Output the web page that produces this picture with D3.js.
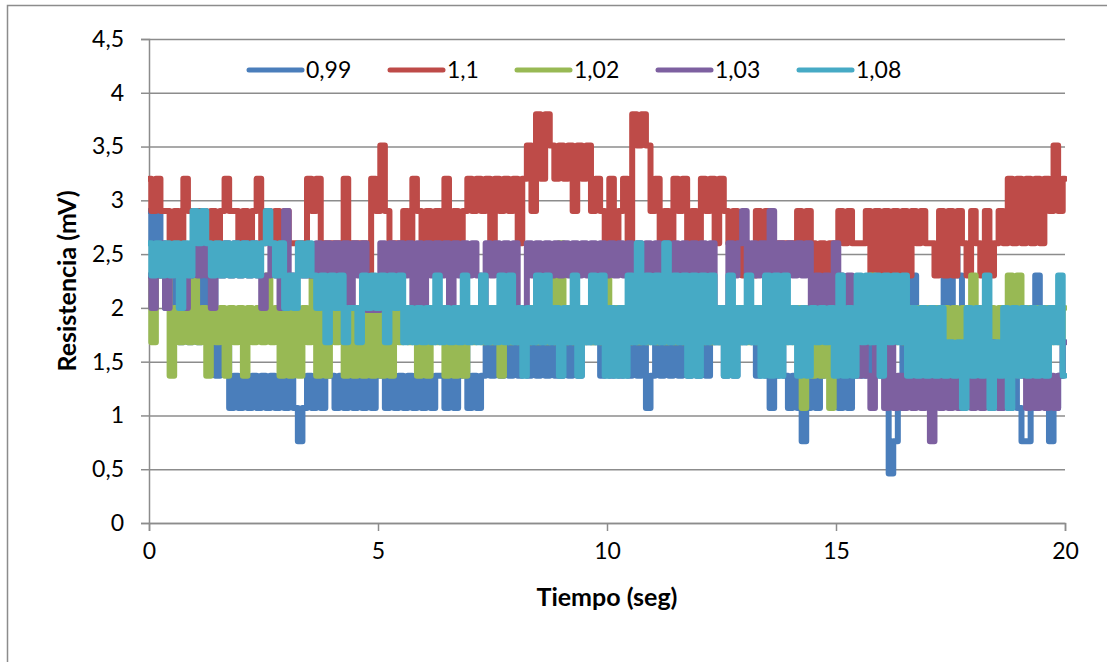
<!DOCTYPE html>
<html><head><meta charset="utf-8">
<script src="https://cdn.jsdelivr.net/npm/d3@7/dist/d3.min.js"></script>
<style>html,body{margin:0;padding:0;background:#fff}svg{display:block}text{font-family:Lato,"Open Sans",sans-serif;fill:#000}</style>
</head><body><svg id="c" width="1107" height="662"></svg>
<script>
const seriesNames=["0,99","1,1","1,02","1,03","1,08"];
const seriesColors=["#4A7EBB","#BE4B48","#98B954","#7D60A0","#46AAC5"];
const yTicks=[0,0.5,1,1.5,2,2.5,3,3.5,4,4.5];
const xTicks=[0,5,10,15,20];
const sampleStep=0.1;
const blue=[
2.9,2.6,2.9,2.3,2,2.3,2,1.68,2,1.68,
1.98,1.68,2.3,1.98,2.3,1.37,1.98,1.68,1.07,1.37,
1.07,1.37,1.07,1.37,1.07,1.37,1.07,1.37,1.07,1.37,
1.07,1.37,1.07,0.76,1.07,1.37,1.07,1.37,1.07,1.37,
1.37,1.07,1.37,1.07,1.37,1.07,1.37,1.07,1.37,1.07,
1.37,1.37,1.07,1.37,1.07,1.37,1.07,1.37,1.07,1.37,
1.07,1.37,1.07,1.37,1.37,1.07,1.68,1.07,1.37,1.68,
1.07,1.37,1.07,1.37,1.68,1.37,1.68,1.37,1.68,1.37,
1.68,1.37,1.68,1.37,1.68,1.37,1.68,1.37,1.68,1.37,
1.37,1.68,1.37,1.68,1.37,1.68,1.68,1.68,1.68,1.37,
1.68,1.37,1.68,1.37,1.68,1.37,1.68,1.37,1.68,1.07,
1.37,1.68,1.37,1.68,1.37,1.68,1.37,1.68,1.37,1.68,
1.37,1.68,1.37,1.68,1.68,1.68,1.37,1.68,1.37,1.68,
1.68,1.98,1.68,1.37,1.68,1.37,1.07,1.37,1.68,1.37,
1.07,1.37,1.07,0.76,1.07,1.37,1.07,1.37,1.68,1.37,
1.68,1.07,1.37,1.07,1.37,1.68,1.37,1.68,1.37,1.68,
1.37,1.68,0.46,0.76,1.07,2.3,1.98,2.3,1.68,1.37,
1.68,1.37,1.68,1.37,2.3,1.98,2.6,2.3,1.98,1.68,
1.37,1.68,1.37,1.68,1.07,1.37,1.07,1.37,1.07,1.37,
1.07,0.76,0.76,1.07,2.3,1.68,1.37,0.76,1.07,1.37,
1.68];
const red=[
3.2,2.9,3.2,2.9,2.9,2.6,2.9,2.6,3.2,2.9,
2.9,2.9,2.9,2.6,2.9,2.6,2.9,3.2,2.9,2.9,
2.6,2.9,2.6,2.9,3.2,2.6,2.9,2.6,2.9,2.6,
2.9,2.6,2.6,2.6,2.6,3.2,2.9,3.2,2.6,2.6,
2.6,2.6,2.6,3.2,2.6,2.6,2.6,2.6,2.3,3.2,
2.9,3.51,2.9,2.6,2.6,2.6,2.9,2.6,3.2,2.9,
2.6,2.9,2.6,2.9,2.6,3.2,2.6,2.9,2.6,2.9,
3.2,2.9,3.2,2.9,3.2,2.6,3.2,2.9,3.2,2.9,
3.2,2.6,3.2,3.51,2.9,3.8,3.2,3.8,3.51,3.2,
3.51,3.2,3.51,2.9,3.51,3.2,3.51,2.9,3.2,2.9,
2.6,3.2,2.6,2.9,3.2,2.6,3.8,3.51,3.8,3.51,
2.9,3.2,2.6,2.9,2.6,3.2,2.9,3.2,2.6,2.9,
2.6,3.2,2.9,3.2,2.6,3.2,2.9,2.6,2.9,2.6,
2.3,2.3,2.3,2.9,2.6,2.9,2.6,2.6,2.6,2.6,
2.6,2.6,2.9,2.6,2.9,2.6,2.3,2.6,2.3,2.6,
2.6,2.9,2.6,2.9,2.6,2.6,2.6,2.9,2.3,2.9,
2.3,2.9,2.3,2.9,2.3,2.9,2.3,2.9,2.6,2.9,
2.6,2.6,2.3,2.9,2.3,2.9,2.3,2.9,2.6,2.3,
2.9,2.6,2.3,2.9,2.3,2.6,2.9,2.6,3.2,2.6,
3.2,2.6,3.2,2.6,3.2,2.6,3.2,2.9,3.51,2.9,
3.2];
const green=[
2.3,1.68,2.3,2.3,2.3,1.37,2,1.68,2,1.68,
2.3,1.68,2,1.37,2,1.68,2,1.37,2,1.68,
2,1.37,2,1.68,2,1.68,2.3,1.68,2,1.37,
2,1.37,2,1.37,2,1.68,2.3,1.37,2,1.37,
2,1.68,2,1.37,2,1.37,2,1.37,2,1.37,
2,1.37,2,1.37,2,1.68,2,1.68,2,1.37,
2,1.37,2,1.68,2,1.37,2,1.37,2,1.37,
2,1.68,2,1.68,2,1.68,2,1.37,2,1.68,
2,1.68,2,1.68,2,1.68,2,1.68,2.3,1.68,
2.6,1.68,2,1.68,2,1.68,2,1.68,2,1.68,
2.3,1.68,2,1.68,2,1.68,2,1.68,2,1.68,
2,1.68,2,1.68,2,1.68,2,1.68,2,1.68,
2,1.68,2,1.68,2,1.68,2,1.68,2,1.68,
2,1.68,2,1.68,2,1.68,2,1.68,2,1.68,
2,1.68,2,1.07,2,1.37,2,1.37,2,1.07,
2,1.68,2,1.68,2,1.68,2,1.68,2.3,1.68,
2,1.68,2,1.68,2,1.68,2,1.68,2,1.68,
2,1.68,2,1.68,2,1.68,2,1.68,2,1.68,
2.3,1.68,2,1.68,2,1.68,2,1.68,2.3,2,
2.3,1.68,2,1.68,2,1.68,2,1.68,2,1.68,
2];
const purple=[
2.3,2,2.3,2.6,2,2.3,2.3,2.3,2,2.3,
2.6,2.3,2.6,2.3,2,2.3,2.3,2.6,2.3,2.6,
2.3,2.6,2.3,2.6,2.3,2,2.3,2.6,2.3,2,
2.9,2.3,2.3,2.3,2.3,2.3,2.3,2.6,2.3,2.6,
2.3,2.6,2.3,2.6,2,2.6,2.3,2.6,1.98,1.98,
1.98,2.6,2.3,2.6,2.3,2.6,2.3,2.6,2,2.6,
2,2.6,2.3,2.6,2.3,2.6,2,2.6,2.3,2.6,
2.3,2.6,2.3,1.98,2.6,2.3,2.6,2.3,2.6,2.3,
2.6,2,1.98,2.6,2.3,2.6,2.3,2.6,2.3,2.6,
2.3,2.6,2.3,2.6,2.3,2.6,2.3,2.6,2.3,2.6,
2.3,2.6,2.3,2.6,2.3,2.6,2.3,2.6,2.3,2.6,
2.3,2.6,2.3,2.6,2.3,2.6,2.3,2.6,2.3,2.6,
2.3,2.6,2.3,2.6,2,2,2,2.6,2.3,2.6,
2.9,2.3,2.6,2.3,2.6,2.3,2.9,2.3,2.6,2.3,
2.6,2.3,2.6,2.3,2.6,2,2.3,2,2.3,2,
2.6,2.3,2,2.3,2,1.37,1.68,1.37,1.07,1.68,
1.68,1.07,1.68,1.07,1.37,1.07,1.37,1.07,1.37,1.07,
1.37,0.76,1.37,1.07,1.37,1.07,1.37,1.07,1.37,1.37,
1.07,1.37,1.07,1.37,1.68,1.37,1.07,1.37,1.68,1.37,
1.68,1.37,1.07,1.37,1.07,1.37,1.07,1.37,1.07,1.37,
1.68];
const teal=[
2.6,2.3,2.6,2.3,2.6,2.3,2.6,2,2.6,2.3,
2.9,2.6,2.9,2.6,2.3,2.6,2.3,2.6,2.3,2.6,
2.3,2.6,2.3,2.6,2.3,2.6,2.9,2.6,2.3,2.6,
2,2.3,2,2.6,2.3,2.6,2.3,2,2.3,1.68,
2.3,2,2.3,1.68,2,2,1.68,2.3,2,2.3,
2,2.3,1.68,2.3,2,2.3,1.68,2,1.68,2,
1.68,2,1.68,2.3,1.68,2,1.68,2,1.68,2.3,
1.68,2,1.68,2.3,1.68,2,1.68,2.3,1.68,2.3,
1.68,2,1.37,2,1.68,2.3,1.68,2.3,1.68,2,
1.37,2,1.68,2.3,1.37,2,1.68,2.3,1.68,2.3,
1.37,2,1.37,2,1.37,2.3,1.68,2.6,1.68,2.3,
1.68,2.3,1.68,2.6,1.68,2.3,1.68,2.3,1.37,2.3,
1.37,2.3,1.68,2.3,1.68,2,1.37,2.3,1.37,2,
1.68,2.3,1.68,2,1.37,2.3,1.37,2.3,1.37,2.3,
1.68,2,1.37,2,1.37,2,1.68,2,1.68,2,
1.37,2.3,1.37,2,1.37,2.3,1.68,2.3,1.68,2.3,
1.37,2.3,1.68,2.3,1.68,2.3,1.37,2,1.37,2,
1.37,2,1.37,2,1.37,1.68,1.37,1.68,1.07,2,
1.37,2,1.37,2.3,1.07,1.68,1.37,2,1.07,2,
1.37,2,1.37,2,1.37,2,1.37,2,1.68,2.3,
1.37];
const allSeries=[blue,red,green,purple,teal];

const svg=d3.select("#c");
const L=149,R=1065,T=39,B=523;
const x=d3.scaleLinear().domain([0,20]).range([L,R]);
const y=d3.scaleLinear().domain([0,4.5]).range([B,T]);
const AXC="#8C8C8C";

svg.append("path").attr("d","M1107,5.5H7.5V662").attr("fill","none").attr("stroke",AXC).attr("stroke-width",1.5);

const yAxis=d3.axisLeft(y).tickValues(yTicks).tickSize(8).tickPadding(17)
  .tickFormat(d=>String(d).replace(".",","));
const gy=svg.append("g").attr("transform",`translate(${L},0)`).call(yAxis);
gy.selectAll("text").style("font-size","23px");
gy.selectAll("line,path").attr("stroke",AXC).attr("stroke-width",1.5);
gy.selectAll(".tick").append("line").attr("x1",0).attr("x2",R-L).attr("stroke",AXC).attr("stroke-width",1.5);

const xAxis=d3.axisBottom(x).tickValues(xTicks).tickSize(8).tickPadding(12).tickFormat(d=>d);
const gx=svg.append("g").attr("transform",`translate(0,${B})`).call(xAxis);
gx.selectAll("text").style("font-size","23px");
gx.selectAll("line,path").attr("stroke",AXC).attr("stroke-width",1.5);

svg.append("defs").append("clipPath").attr("id","pc").append("rect")
  .attr("x",L-1).attr("y",0).attr("width",R-L+3).attr("height",662);

const line=d3.line().curve(d3.curveStep).x((d,i)=>x(i*sampleStep)).y(d=>y(d));
svg.append("g").attr("clip-path","url(#pc)").selectAll("path").data(allSeries).join("path")
  .attr("d",line).attr("fill","none").attr("stroke",(d,i)=>seriesColors[i])
  .attr("stroke-width",6).attr("stroke-linejoin","round").attr("stroke-linecap","round");

const legendStart=[247,388,515,656,797];
const lg=svg.append("g").selectAll("g").data(seriesNames).join("g")
  .attr("transform",(d,i)=>`translate(${legendStart[i]},70)`);
lg.append("line").attr("x1",2).attr("x2",55).attr("stroke-width",5).attr("stroke-linecap","round")
  .attr("stroke",(d,i)=>seriesColors[i]);
lg.append("text").attr("x",59).attr("y",8).style("font-size","23px").text(d=>d);

svg.append("text").attr("x",607).attr("y",606).attr("text-anchor","middle")
  .style("font-size","25px").style("font-weight","700").text("Tiempo (seg)");
svg.append("text").attr("transform","translate(76,281) rotate(-90)").attr("text-anchor","middle")
  .style("font-size","25px").style("font-weight","700").text("Resistencia (mV)");
</script></body></html>
